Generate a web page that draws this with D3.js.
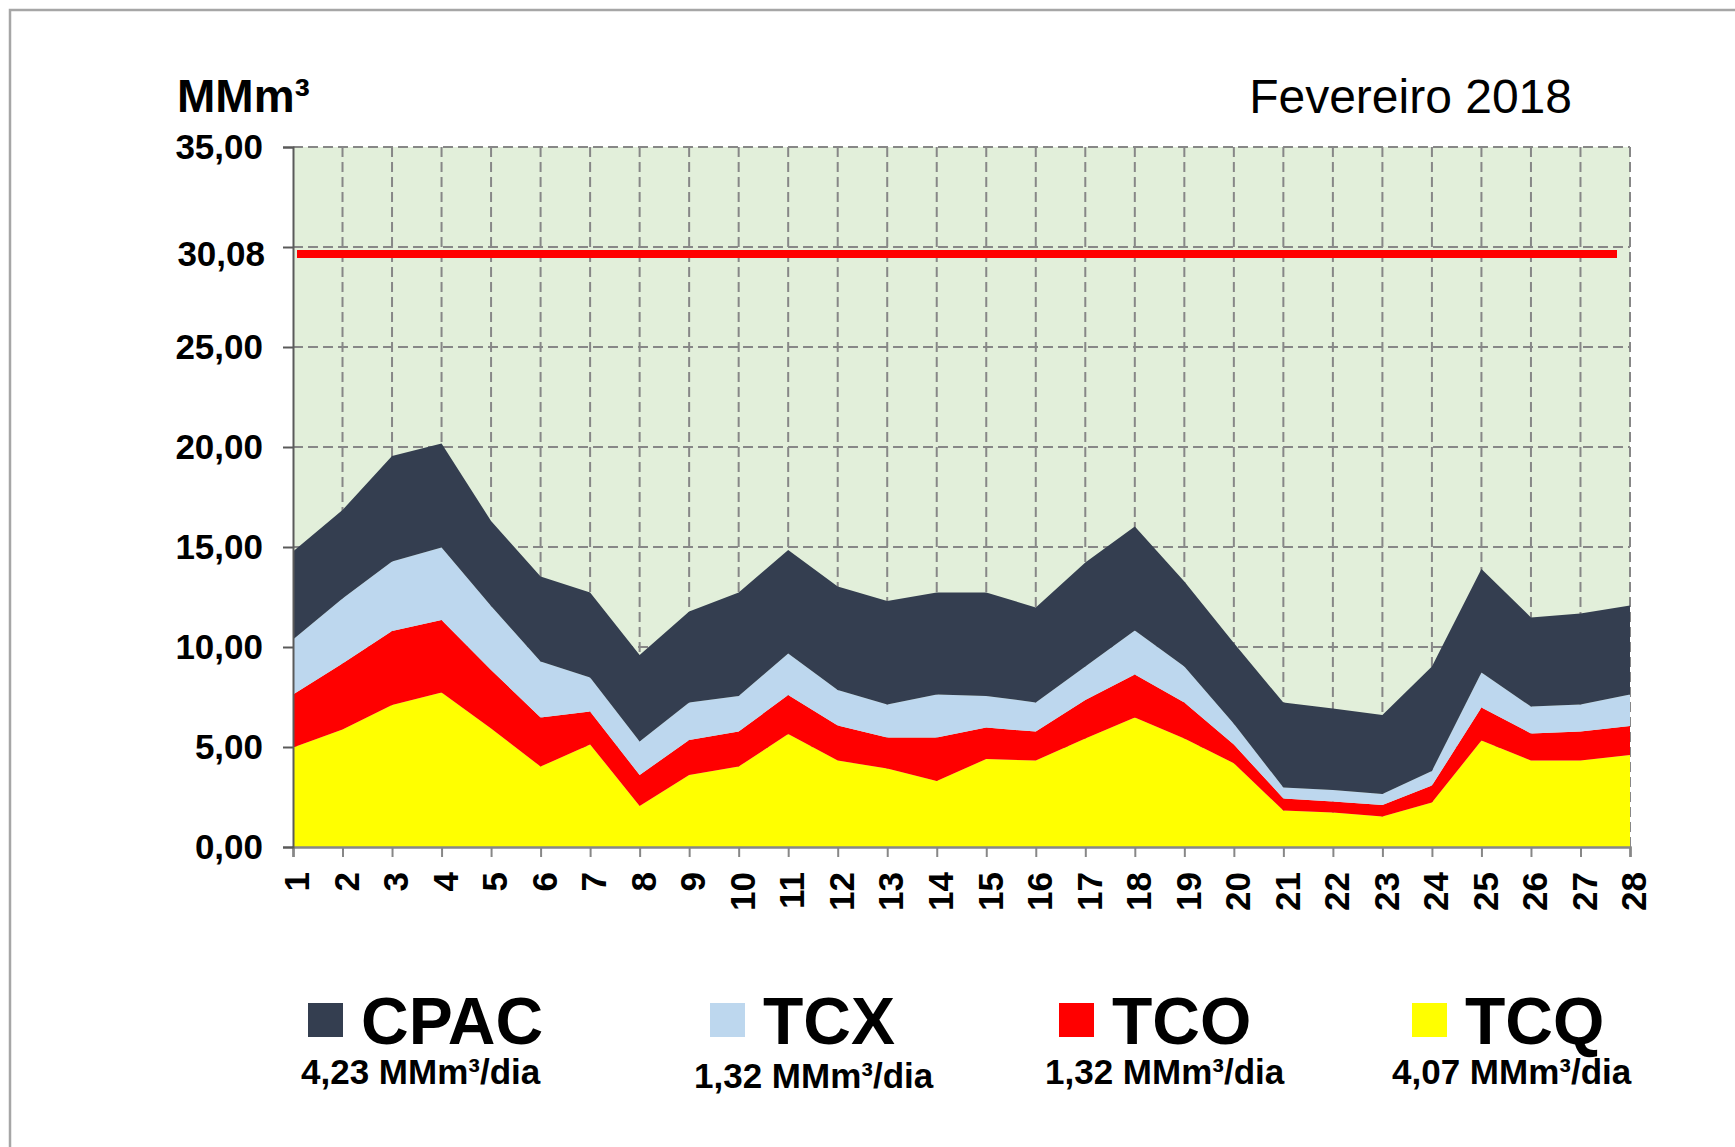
<!DOCTYPE html>
<html>
<head>
<meta charset="utf-8">
<script src="https://cdn.jsdelivr.net/npm/d3@7"></script>
<style>
  body { margin: 0; background: #fff; }
  svg { display: block; }
</style>
</head>
<body>
<svg id="chart" width="1735" height="1147" font-family="Liberation Sans, Arial, sans-serif"></svg>
<script>
// days of the month (x categories)
const days = [1, 2, 3, 4, 5, 6, 7, 8, 9, 10, 11, 12, 13, 14, 15, 16, 17, 18, 19, 20, 21, 22, 23, 24, 25, 26, 27, 28];

// daily volumes per terminal, MMm³
const tcq  = [4.97, 5.88, 7.10, 7.73, 5.93, 4.02, 5.13, 2.05, 3.60, 4.02, 5.65, 4.32, 3.93, 3.30, 4.40, 4.32, 5.43, 6.47, 5.43, 4.19, 1.82, 1.72, 1.52, 2.23, 5.32, 4.32, 4.32, 4.60];
const tco  = [2.66, 3.30, 3.70, 3.62, 2.92, 2.46, 1.64, 1.55, 1.75, 1.75, 1.95, 1.75, 1.54, 2.17, 1.57, 1.45, 1.92, 2.16, 1.79, 0.93, 0.61, 0.55, 0.58, 0.84, 1.66, 1.36, 1.45, 1.45];
const tcx  = [2.75, 3.25, 3.47, 3.63, 3.20, 2.79, 1.70, 1.67, 1.87, 1.78, 2.08, 1.78, 1.66, 2.16, 1.58, 1.46, 1.67, 2.19, 1.80, 1.04, 0.54, 0.58, 0.55, 0.73, 1.75, 1.34, 1.36, 1.58];
const cpac = [4.39, 4.42, 5.28, 5.20, 4.25, 4.25, 4.25, 4.33, 4.55, 5.17, 5.17, 5.17, 5.17, 5.09, 5.17, 4.75, 5.20, 5.20, 4.25, 4.04, 4.25, 4.08, 3.95, 5.22, 5.17, 4.46, 4.55, 4.44];

// capacity line
const limitValue = 29.65;
const limitLabel = '30,08';

// y ticks
const yTicks = [0, 5, 10, 15, 20, 25, 30, 35];

// legend
const legendNames = ['CPAC', 'TCX', 'TCO', 'TCQ'];
const legendAverages = ['4,23 MMm³/dia', '1,32 MMm³/dia', '1,32 MMm³/dia', '4,07 MMm³/dia'];

const colors = { CPAC: '#343e50', TCX: '#bdd7ee', TCO: '#ff0000', TCQ: '#ffff00' };

// build table for d3.stack
const table = days.map((d, i) => ({ day: d, TCQ: tcq[i], TCO: tco[i], TCX: tcx[i], CPAC: cpac[i] }));

const width = 1735;
const height = 1147;
const margin = { top: 147, right: 105, bottom: 300, left: 293 };
const innerWidth = width - margin.left - margin.right;
const innerHeight = height - margin.top - margin.bottom;

const svg = d3.select('#chart');

// outer frame (only left and top edges fall inside the picture)
svg.append('path')
  .attr('d', `M10,${height} L10,10 L${width},10`)
  .attr('fill', 'none')
  .attr('stroke', '#a6a6a6')
  .attr('stroke-width', 2.5);

const g = svg.append('g')
  .attr('transform', `translate(${margin.left}, ${margin.top})`);

const xScale = d3.scaleLinear()
  .domain([days[0], days[days.length - 1]])
  .range([0, innerWidth]);

const yScale = d3.scaleLinear()
  .domain([0, 35])
  .range([innerHeight, 0]);

// plot background
g.append('rect')
  .attr('width', innerWidth)
  .attr('height', innerHeight)
  .attr('fill', '#e2efda');

// dashed grid
g.append('g')
  .selectAll('line')
  .data(yTicks.slice(1))
  .enter()
  .append('line')
  .attr('x1', 0).attr('x2', innerWidth)
  .attr('y1', d => yScale(d)).attr('y2', d => yScale(d))
  .attr('stroke', '#878787')
  .attr('stroke-width', 2)
  .attr('stroke-dasharray', '10,5');

g.append('g')
  .selectAll('line')
  .data(days.slice(1))
  .enter()
  .append('line')
  .attr('x1', d => xScale(d)).attr('x2', d => xScale(d))
  .attr('y1', 0).attr('y2', innerHeight)
  .attr('stroke', '#878787')
  .attr('stroke-width', 2)
  .attr('stroke-dasharray', '10,5');

// stacked areas
const keys = ['TCQ', 'TCO', 'TCX', 'CPAC'];
const stacked = d3.stack().keys(keys)(table);

const area = d3.area()
  .x(d => xScale(d.data.day))
  .y0(d => yScale(d[0]))
  .y1(d => yScale(d[1]));

g.append('g')
  .selectAll('path')
  .data(stacked)
  .enter()
  .append('path')
  .attr('d', area)
  .attr('fill', d => colors[d.key]);

// x axis
const xAxis = g.append('g')
  .attr('transform', `translate(0, ${innerHeight})`)
  .call(d3.axisBottom(xScale).tickValues(days).tickSize(10).tickFormat(d => d))
  .attr('font-family', null)
  .attr('font-size', 35)
  .attr('font-weight', 'bold');

xAxis.select('.domain').attr('stroke', '#878787').attr('stroke-width', 2.5);
xAxis.selectAll('.tick line').attr('stroke', '#878787').attr('stroke-width', 2);
xAxis.selectAll('text')
  .attr('transform', 'rotate(-90)')
  .attr('x', -25)
  .attr('y', 0)
  .attr('dy', '0.45em')
  .attr('text-anchor', 'end')
  .attr('fill', '#000');

// y axis
const yAxis = g.append('g')
  .call(d3.axisLeft(yScale)
    .tickValues(yTicks)
    .tickSize(10)
    .tickPadding(20)
    .tickFormat(d => d.toFixed(2).replace('.', ',')))
  .attr('font-family', null)
  .attr('font-size', 35)
  .attr('font-weight', 'bold');

yAxis.select('.domain').attr('stroke', '#5a5a5a').attr('stroke-width', 2);
yAxis.selectAll('.tick line').attr('stroke', '#5a5a5a').attr('stroke-width', 2);
yAxis.selectAll('text').attr('fill', '#000');
// the 30 tick carries the capacity label instead
yAxis.selectAll('.tick').filter(d => d === 30).select('text').remove();

// capacity line + its label
g.append('line')
  .attr('x1', xScale(days[0]) + 4)
  .attr('x2', xScale(days[days.length - 1]) - 13)
  .attr('y1', yScale(limitValue))
  .attr('y2', yScale(limitValue))
  .attr('stroke', '#ff0000')
  .attr('stroke-width', 8);

g.append('text')
  .attr('x', -28)
  .attr('y', yScale(limitValue))
  .attr('dy', '0.35em')
  .attr('text-anchor', 'end')
  .attr('font-size', 35)
  .attr('font-weight', 'bold')
  .text(limitLabel);

// unit label
svg.append('text')
  .attr('x', 177)
  .attr('y', 112)
  .attr('font-size', 46)
  .attr('font-weight', 'bold')
  .text('MMm³');

// title
svg.append('text')
  .attr('x', 1572)
  .attr('y', 113)
  .attr('text-anchor', 'end')
  .attr('font-size', 48)
  .text('Fevereiro 2018');

// legend
const legendX = [308, 710, 1059, 1412];
const legendSubX = [301, 694, 1045, 1392];

const legend = svg.append('g')
  .selectAll('g')
  .data(legendNames)
  .enter()
  .append('g');

legend.append('rect')
  .attr('x', (d, i) => legendX[i])
  .attr('y', 1003)
  .attr('width', 35)
  .attr('height', 34)
  .attr('fill', d => colors[d]);

legend.append('text')
  .attr('x', (d, i) => legendX[i] + 53)
  .attr('y', 1044)
  .attr('font-size', 66)
  .attr('font-weight', 'bold')
  .text(d => d);

legend.append('text')
  .attr('x', (d, i) => legendSubX[i])
  .attr('y', (d, i) => i === 1 ? 1088 : 1084)
  .attr('font-size', 35)
  .attr('font-weight', 'bold')
  .text((d, i) => legendAverages[i]);
</script>
</body>
</html>
